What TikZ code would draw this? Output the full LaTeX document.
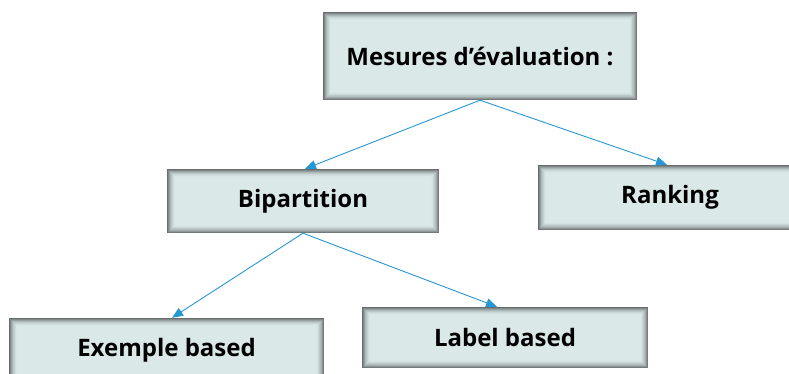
\documentclass[tikz,border=0pt]{standalone}
\usepackage{fontspec}
\setmainfont{Open Sans}
\usetikzlibrary{arrows.meta}
\definecolor{boxfill}{RGB}{218,232,232}
\definecolor{boxedge}{RGB}{90,95,95}
\definecolor{linkblue}{RGB}{38,150,212}
\tikzset{
  x=1pt, y=1pt,
  boxnode/.style={
    rectangle, fill=boxfill, inner sep=0pt,
    font=\bfseries\fontsize{24}{28}\selectfont,
    path picture={
      \foreach \i in {0,...,13}{
        \pgfmathsetmacro{\mixv}{90*(1-\i/14)^1.6}
        \draw[draw=boxedge!\mixv!boxfill, line width=0.6pt]
          ([xshift=\i*0.55pt+0.3pt, yshift=\i*0.55pt+0.3pt]path picture bounding box.south west)
          rectangle
          ([xshift=-\i*0.55pt-0.3pt, yshift=-\i*0.55pt-0.3pt]path picture bounding box.north east);
      }
    }
  },
  link/.style={draw=linkblue, line width=0.9pt, -{Triangle[length=11pt,width=9pt]}}
}
\begin{document}
\begin{tikzpicture}
\useasboundingbox (0,0) rectangle (789,374);
\node[boxnode, minimum width=314pt, minimum height=88pt] (mesures) at (480,318) {Mesures d’évaluation :};
\node[boxnode, minimum width=272pt, minimum height=64pt] (bipart) at (303,173) {Bipartition};
\node[boxnode, minimum width=264pt, minimum height=65pt] (ranking) at (670,176.5) {Ranking};
\node[boxnode, minimum width=315pt, minimum height=64pt] (exemple) at (166.5,24) {Exemple based};
\node[boxnode, minimum width=286pt, minimum height=61pt] (labelb) at (505,36.5) {Label based};
\draw[link] (mesures.south) -- ([xshift=2pt]bipart.north);
\draw[link] (mesures.south) -- ([xshift=-3pt]ranking.north);
\draw[link] (bipart.south) -- ([xshift=5.5pt]exemple.north);
\draw[link] (bipart.south) -- ([xshift=-8pt]labelb.north);
\end{tikzpicture}
\end{document}
